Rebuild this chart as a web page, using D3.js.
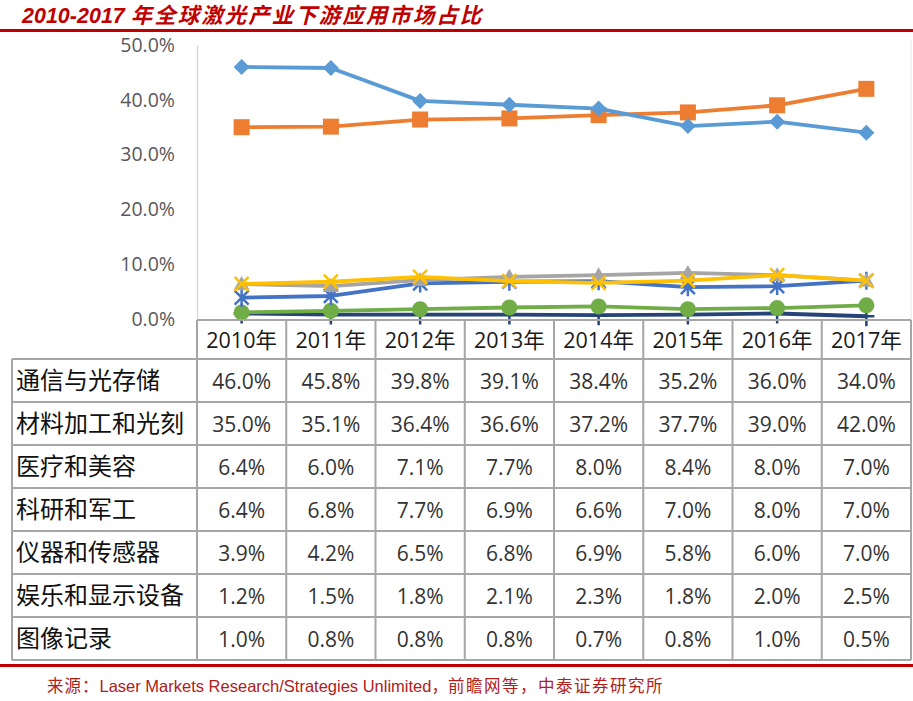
<!DOCTYPE html>
<html><head><meta charset="utf-8">
<script src="https://cdn.jsdelivr.net/npm/d3@7"></script>
<style>
html,body{margin:0;padding:0;background:#fff;}
svg{display:block;}
</style></head>
<body>
<svg id="chart" width="913" height="701"></svg>
<script>
const years = ["2010年","2011年","2012年","2013年","2014年","2015年","2016年","2017年"];
const seriesNames = ["通信与光存储","材料加工和光刻","医疗和美容","科研和军工","仪器和传感器","娱乐和显示设备","图像记录"];
const tongxin = [46.0,45.8,39.8,39.1,38.4,35.2,36.0,34.0];
const cailiao  = [35.0,35.1,36.4,36.6,37.2,37.7,39.0,42.0];
const yiliao   = [6.4,6.0,7.1,7.7,8.0,8.4,8.0,7.0];
const keyan    = [6.4,6.8,7.7,6.9,6.6,7.0,8.0,7.0];
const yiqi     = [3.9,4.2,6.5,6.8,6.9,5.8,6.0,7.0];
const yule     = [1.2,1.5,1.8,2.1,2.3,1.8,2.0,2.5];
const tuxiang  = [1.0,0.8,0.8,0.8,0.7,0.8,1.0,0.5];
const yTicks = [0,10,20,30,40,50];
const colors = ["#5B9BD5","#ED7D31","#A5A5A5","#FFC000","#4472C4","#70AD47","#264478"];
const markers = ["diamond","square","triangle","x","star","circle","plus"];
const allValues = [tongxin,cailiao,yiliao,keyan,yiqi,yule,tuxiang];

const svg = d3.select("#chart");
const red = "#C00000";

// title
const title = svg.append("text").attr("x",22).attr("y",23)
  .attr("font-family","'Liberation Sans','Noto Sans CJK SC',sans-serif")
  .attr("font-size",21.5).attr("font-weight","bold").attr("font-style","italic")
  .attr("fill",red);
title.append("tspan").text("2010-2017 ");
title.append("tspan").attr("letter-spacing",2).text("年全球激光产业下游应用市场占比");
svg.append("rect").attr("x",0).attr("y",29).attr("width",913).attr("height",3).attr("fill",red);

// scales
const x = d3.scaleBand().domain(years).range([197,911]);
const y = d3.scaleLinear().domain([0,50]).range([319,45]);
const cx = d => x(d) + x.bandwidth()/2;

// y axis
const yAxis = d3.axisLeft(y).tickValues(yTicks).tickFormat(d=>d.toFixed(1)+"%").tickSize(0).tickPadding(22);
const ga = svg.append("g").attr("transform","translate(197,0)").call(yAxis);
ga.select(".domain").attr("stroke","#D9D9D9").attr("stroke-width",1.5);
ga.selectAll("text").attr("font-family","'Open Sans','Noto Sans',sans-serif").attr("font-size",19.5).attr("fill","#595959");

// right border of plot area
svg.append("line").attr("x1",911).attr("x2",911).attr("y1",40).attr("y2",320).attr("stroke","#E6E6E6");

// lines
const line = d3.line().x((d,i)=>cx(years[i])).y(d=>y(d));
const order = [6,5,4,2,3,1,0];
order.forEach(si=>{
  const vals = allValues[si];
  svg.append("path").datum(vals).attr("d",line).attr("fill","none")
    .attr("stroke",colors[si]).attr("stroke-width",3.8).attr("stroke-linejoin","round");
  const g = svg.append("g");
  vals.forEach((v,i)=>{
    const px = cx(years[i]), py = y(v);
    const c = colors[si];
    const m = markers[si];
    if(m==="diamond"){
      g.append("path").attr("d",`M${px},${py-8}L${px+8},${py}L${px},${py+8}L${px-8},${py}Z`).attr("fill",c);
    } else if(m==="square"){
      g.append("rect").attr("x",px-8).attr("y",py-8).attr("width",16).attr("height",16).attr("fill",c);
    } else if(m==="triangle"){
      g.append("path").attr("d",`M${px},${py-8}L${px+8},${py+6}L${px-8},${py+6}Z`).attr("fill",c);
    } else if(m==="x"){
      g.append("path").attr("d",`M${px-7},${py-7}L${px+7},${py+7}M${px+7},${py-7}L${px-7},${py+7}`).attr("stroke",c).attr("stroke-width",2.5);
    } else if(m==="star"){
      g.append("path").attr("d",`M${px-7},${py-7}L${px+7},${py+7}M${px+7},${py-7}L${px-7},${py+7}M${px},${py-9}L${px},${py+9}`).attr("stroke",c).attr("stroke-width",2.5);
    } else if(m==="circle"){
      g.append("circle").attr("cx",px).attr("cy",py).attr("r",8).attr("fill",c);
    } else if(m==="plus"){
      g.append("path").attr("d",`M${px-8},${py}L${px+8},${py}M${px},${py-10}L${px},${py+10}`).attr("stroke",c).attr("stroke-width",2.5);
    }
  });
});

// data table
const rowTop = 320, headerH = 39, rowH = 43;
const tableLeft = 12, tableRight = 911;
const rowY = i => rowTop + headerH + i*rowH;
const grid = svg.append("g").attr("stroke","#A6A6A6").attr("stroke-width",2).attr("fill","none");
grid.append("line").attr("x1",197).attr("x2",tableRight).attr("y1",rowTop).attr("y2",rowTop);
for(let i=0;i<=seriesNames.length;i++){
  grid.append("line").attr("x1",tableLeft).attr("x2",tableRight).attr("y1",rowY(i)).attr("y2",rowY(i));
}
years.forEach(yr=>{
  grid.append("line").attr("x1",x(yr)).attr("x2",x(yr)).attr("y1",rowTop).attr("y2",rowY(seriesNames.length));
});
grid.append("line").attr("x1",tableRight).attr("x2",tableRight).attr("y1",rowTop).attr("y2",rowY(seriesNames.length));
grid.append("line").attr("x1",tableLeft).attr("x2",tableLeft).attr("y1",rowY(0)).attr("y2",rowY(seriesNames.length));

// header text
svg.append("g").selectAll("text").data(years).join("text")
  .attr("x",d=>cx(d)).attr("y",rowTop+headerH/2+8).attr("text-anchor","middle")
  .attr("font-family","'Open Sans','Noto Sans CJK SC',sans-serif").attr("font-size",21.5).attr("fill","#1a1a1a")
  .text(d=>d);

// rows
seriesNames.forEach((name,ri)=>{
  svg.append("text").attr("x",16).attr("y",rowY(ri)+rowH/2+8.5)
    .attr("font-family","'Noto Sans CJK SC',sans-serif").attr("font-size",24).attr("fill","#111")
    .text(name);
  svg.append("g").selectAll("text").data(allValues[ri]).join("text")
    .attr("x",(d,i)=>cx(years[i])).attr("y",rowY(ri)+rowH/2+8).attr("text-anchor","middle")
    .attr("font-family","'Open Sans','Noto Sans',sans-serif").attr("font-size",21).attr("fill","#333")
    .text(d=>d.toFixed(1)+"%");
});

// footer
svg.append("rect").attr("x",0).attr("y",664).attr("width",913).attr("height",3).attr("fill",red);
const src = svg.append("text").attr("x",47).attr("y",692)
  .attr("font-family","'Liberation Sans Narrow','Liberation Sans','Noto Sans CJK SC',sans-serif")
  .attr("font-size",16.5).attr("fill","#B0201A");
src.append("tspan").attr("letter-spacing",1).text("来源：");
src.append("tspan").text("Laser Markets Research/Strategies Unlimited，");
src.append("tspan").attr("letter-spacing",1.5).text("前瞻网等，中泰证券研究所");
</script>
</body></html>
